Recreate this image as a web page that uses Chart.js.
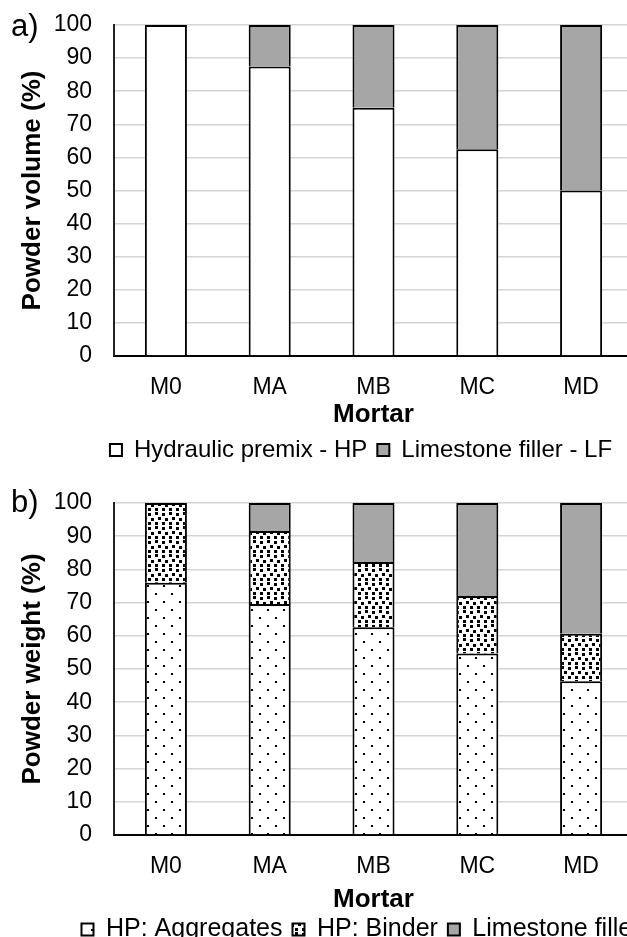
<!DOCTYPE html>
<html>
<head>
<meta charset="utf-8">
<script src="https://cdn.jsdelivr.net/npm/chart.js@4.4.1/dist/chart.umd.min.js"></script>
<style>
  html, body { margin: 0; padding: 0; background: #fff; overflow: hidden; width: 627px; height: 937px; }
  .wrap { position: absolute; left: 0; width: 722px; }
  #boxA { top: 0; height: 480px; }
  #boxB { top: 470px; height: 490px; }
  .tag { position: absolute; left: 11px; font: 31px "Liberation Sans", Arial, sans-serif; line-height: 1; color: #000; }
</style>
</head>
<body>
<div class="wrap" id="boxA"><canvas id="chartA" width="722" height="480" style="width:722px;height:480px"></canvas></div>
<div class="wrap" id="boxB"><canvas id="chartB" width="722" height="490" style="width:722px;height:490px"></canvas></div>
<div class="tag" style="top:10px">a)</div>
<div class="tag" style="top:486px">b)</div>
<script>
// ---- data ----
const MORTARS = ['M0', 'MA', 'MB', 'MC', 'MD'];
const Y_TICKS = [0, 10, 20, 30, 40, 50, 60, 70, 80, 90, 100];

// a) powder volume (%)
const VOL_HP = [100, 87.5, 75, 62.5, 50];
const VOL_LF = [0, 12.5, 25, 37.5, 50];

// b) powder weight (%)
const WT_AGG = [76, 69.6, 62.6, 54.7, 46.3];
const WT_BINDER = [24, 22, 19.6, 17.3, 14.3];
const WT_LF = [0, 8.4, 17.8, 28, 39.4];

const FONT = '"Liberation Sans", Arial, sans-serif';
const GREY = '#a6a6a6';

// ---- fill patterns ----
function dotPattern() {
    const c = document.createElement('canvas');
    c.width = 16; c.height = 16;
    const g = c.getContext('2d');
    g.fillStyle = '#fff'; g.fillRect(0, 0, 16, 16);
    g.fillStyle = '#000';
    g.fillRect(3, 3, 2, 2);
    g.fillRect(11, 11, 2, 2);
    return g.createPattern(c, 'repeat');
}
function confettiPattern() {
    // "large confetti": scattered 3px squares
    const c = document.createElement('canvas');
    c.width = 14; c.height = 14;
    const g = c.getContext('2d');
    g.fillStyle = '#fff'; g.fillRect(0, 0, 14, 14);
    g.fillStyle = '#000';
    [[1, 0], [8, 1], [4, 5], [11, 6], [1, 10], [8, 10]].forEach(([x, y]) => g.fillRect(x, y, 3, 3));
    return g.createPattern(c, 'repeat');
}

function barSet(label, data, fill) {
    return {
        label, data,
        backgroundColor: fill,
        borderColor: '#000',
        borderWidth: 2,
        categoryPercentage: 1,
        barPercentage: 0.405
    };
}

function makeOptions(yTitle, cfg) {
    return {
        responsive: false,
        animation: false,
        layout: { padding: { top: cfg.top, bottom: cfg.bottom, left: 0, right: 0 } },
        plugins: {
            tooltip: { enabled: false },
            legend: {
                position: 'bottom',
                labels: {
                    color: '#000',
                    font: { family: FONT, size: cfg.legendSize },
                    boxWidth: 12, boxHeight: 12,
                    padding: 10
                }
            }
        },
        scales: {
            x: {
                stacked: true,
                grid: { display: false },
                border: { display: true, color: '#000', width: 2 },
                ticks: { color: '#000', font: { family: FONT, size: 23 }, padding: 10 },
                title: {
                    display: true, text: 'Mortar', color: '#000',
                    font: { family: FONT, size: 26, weight: 'bold' },
                    padding: { top: 0, bottom: cfg.titlePad }
                },
                afterFit: s => { s.height = cfg.xHeight; }
            },
            y: {
                stacked: true,
                min: 0, max: 100,
                afterBuildTicks: s => { s.ticks = Y_TICKS.map(v => ({ value: v })); },
                grid: { color: '#d4d4d4', lineWidth: 1.5, drawTicks: false },
                border: { display: true, color: '#222', width: 2 },
                ticks: { color: '#000', font: { family: FONT, size: 23 }, padding: 22 },
                title: {
                    display: true, text: yTitle, color: '#000',
                    font: { family: FONT, size: 26, weight: 'bold' },
                    padding: { top: 17, bottom: 0 }
                },
                afterFit: s => { s.width = 114; s.paddingTop = 0; s.paddingBottom = 0; }
            },
            // empty right-hand box so the plot ends at x=633 while the legend stays centred on 361
            spacer: {
                type: 'linear', position: 'right', display: true,
                grid: { display: false }, border: { display: false },
                ticks: { display: false },
                afterFit: s => { s.width = 89; }
            }
        }
    };
}

new Chart(document.getElementById('chartA'), {
    type: 'bar',
    data: {
        labels: MORTARS,
        datasets: [
            barSet('Hydraulic premix - HP', VOL_HP, '#ffffff'),
            barSet('Limestone filler - LF', VOL_LF, GREY)
        ]
    },
    options: makeOptions('Powder volume (%)', { top: 25, bottom: 8, legendSize: 24, xHeight: 72, titlePad: -2 })
});

new Chart(document.getElementById('chartB'), {
    type: 'bar',
    data: {
        labels: MORTARS,
        datasets: [
            barSet('HP: Aggregates', WT_AGG, dotPattern()),
            barSet('HP: Binder', WT_BINDER, confettiPattern()),
            barSet('Limestone filler', WT_LF, GREY)
        ]
    },
    options: makeOptions('Powder weight (%)', { top: 33, bottom: 8, legendSize: 25, xHeight: 72, titlePad: -8 })
});
</script>
</body>
</html>
